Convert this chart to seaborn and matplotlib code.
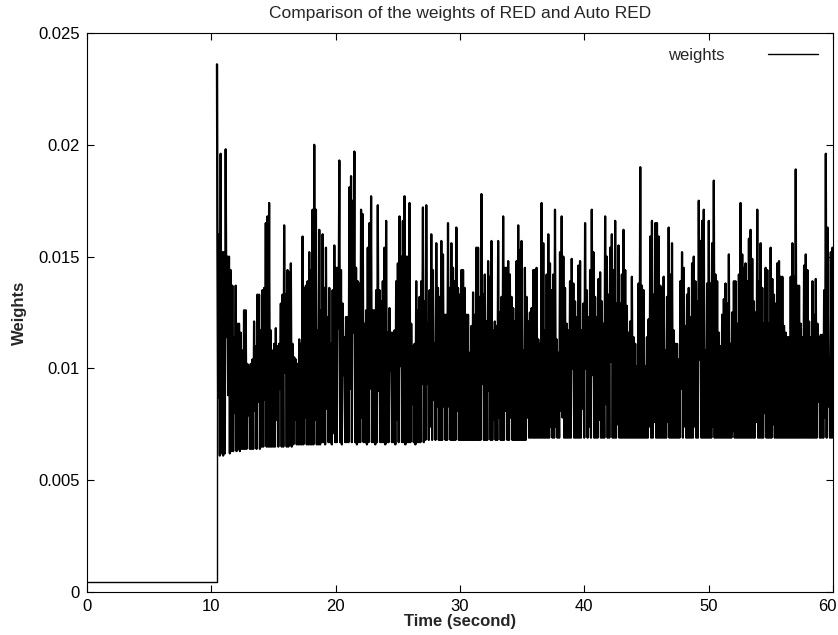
import numpy as np
import matplotlib
matplotlib.use("Agg")
import matplotlib.pyplot as plt
from matplotlib.transforms import ScaledTranslation
import seaborn as sns

# --- DATA (weights in units of 1e-4) ---
# flat start, then the jump at ~10.45 s
head_t = [0.0, 10.45, 10.45]
head_w = [4.5, 4.5, 236]

t_first = 10.48
t_last = 59.96

# peak of each oscillation, left to right
peaks = [
    169, 160, 196, 152, 152, 198, 150, 150, 144, 137, 114, 137, 120, 120, 116, 108,
    126, 126, 102, 101, 102, 104, 121, 110, 133, 133, 117, 135, 136, 165, 168, 174,
    117, 108, 111, 118, 110, 111, 129, 133, 164, 133, 144, 143, 147, 111, 105, 104,
    102, 113, 111, 159, 136, 137, 139, 152, 144, 171, 200, 171, 117, 162,
    # ~18.9 s
    126, 160, 136, 154, 123, 136, 111, 135, 155, 145, 145, 193, 144, 129, 114, 123,
    123, 181, 186, 175, 197, 145, 139, 138, 171, 169, 120, 126, 154, 165, 177, 126,
    126, 135, 173, 135, 130, 139, 154, 166, 116, 127, 116, 116, 117, 139, 147, 168,
    150, 166, 177, 150, 150, 174, 120, 110, 111, 139, 126, 132, 139, 172,
    # ~27.2 s
    130, 173, 120, 135, 160, 144, 111, 156, 136, 132, 157, 151, 124, 124, 165, 136,
    156, 145, 139, 163, 136, 133, 144, 144, 136, 124, 124, 107, 119, 134, 124, 154,
    154, 132, 178, 133, 142, 121, 148, 141, 157, 117, 121, 119, 157, 125, 132, 168,
    145, 145, 148, 142, 132, 127, 121, 148, 164, 153, 157, 108, 145, 132,
    # ~35.6 s
    121, 125, 127, 144, 144, 145, 113, 111, 174, 156, 117, 142, 160, 147, 135, 142,
    171, 113, 107, 152, 168, 150, 136, 120, 117, 139, 149, 138, 130, 123, 146, 148,
    117, 129, 165, 135, 123, 144, 171, 152, 132, 123, 140, 143, 130, 120, 168, 150,
    133, 154, 160, 144, 166, 129, 155, 129, 142, 162, 144, 128, 116, 121,
    # ~43.9 s
    141, 114, 111, 101, 138, 190, 137, 135, 101, 114, 122, 159, 166, 133, 165, 165,
    159, 137, 136, 141, 108, 132, 163, 142, 156, 117, 111, 111, 104, 139, 152, 145,
    119, 133, 136, 123, 147, 150, 139, 130, 175, 157, 166, 171, 108, 138, 166, 138,
    156, 184, 142, 139, 116, 110, 124, 131, 138, 129, 151, 111, 125, 139,
    # ~52.3 s
    139, 120, 142, 174, 151, 145, 147, 139, 158, 162, 149, 130, 125, 171, 139, 156,
    136, 120, 145, 144, 120, 154, 140, 133, 129, 147, 148, 141, 141, 119, 116, 114,
    114, 141, 156, 141, 189, 137, 137, 120, 114, 146, 151, 144, 121, 114, 139, 124,
    140, 120, 114, 115, 115, 135, 196, 163, 105, 152, 154,
]

# trough after each peak
lows = [
    87, 61, 62, 61, 62, 114, 88, 62, 63, 63, 80, 63, 64, 63, 64, 64,
    64, 64, 79, 64, 64, 64, 81, 64, 85, 64, 65, 65, 86, 65, 65, 65,
    65, 65, 65, 77, 65, 91, 65, 65, 98, 65, 65, 66, 65, 66, 77, 66,
    66, 66, 66, 66, 78, 66, 66, 66, 66, 66, 77, 66, 66, 66,
    67, 67, 66, 82, 67, 67, 66, 71, 67, 67, 118, 67, 66, 97, 67, 67,
    67, 91, 67, 116, 67, 66, 67, 67, 78, 67, 67, 66, 67, 91, 67, 67,
    66, 67, 90, 67, 67, 67, 66, 67, 67, 99, 67, 67, 66, 77, 67, 101,
    67, 67, 66, 67, 67, 67, 84, 67, 66, 67, 67, 67, 93, 67,
    68, 93, 68, 74, 68, 86, 68, 83, 68, 68, 68, 83, 68, 68, 83, 68,
    68, 68, 68, 81, 68, 68, 68, 68, 68, 68, 68, 68, 68, 68, 68, 68,
    68, 68, 93, 68, 68, 68, 90, 68, 68, 77, 68, 68, 78, 68, 68, 68,
    81, 68, 68, 78, 68, 68, 68, 68, 68, 68, 68, 68, 68, 78,
    69, 69, 69, 69, 69, 69, 69, 69, 69, 69, 69, 69, 69, 74, 69, 69,
    74, 69, 69, 81, 78, 69, 69, 69, 69, 69, 100, 69, 69, 69, 69, 69,
    82, 69, 100, 69, 74, 69, 97, 69, 69, 69, 77, 69, 69, 69, 84, 69,
    69, 103, 69, 69, 69, 75, 69, 69, 69, 69, 69, 69, 69, 69,
    69, 69, 69, 69, 69, 69, 69, 69, 69, 69, 74, 69, 69, 76, 69, 69,
    69, 69, 69, 69, 69, 76, 69, 69, 69, 69, 69, 69, 69, 91, 69, 74,
    69, 69, 69, 69, 69, 74, 69, 69, 104, 69, 69, 69, 69, 69, 69, 69,
    74, 69, 69, 69, 69, 69, 69, 69, 69, 69, 69, 69, 72, 69,
    69, 69, 69, 69, 69, 69, 69, 69, 69, 69, 69, 69, 76, 69, 69, 69,
    69, 80, 69, 69, 69, 69, 75, 69, 69, 69, 69, 69, 69, 69, 69, 69,
    69, 69, 69, 69, 69, 69, 69, 69, 69, 69, 69, 69, 69, 69, 69, 69,
    69, 85, 69, 69, 69, 78, 69, 83, 69, 69, 69,
]

x_ticks = [0, 10, 20, 30, 40, 50, 60]
y_ticks = [0, 0.005, 0.01, 0.015, 0.02, 0.025]
y_labels = ["0", "0.005", "0.01", "0.015", "0.02", "0.025"]

# --- build the zigzag (peak, then trough, for each sample) ---
n = len(peaks)
t_pk = np.linspace(t_first, t_last, n)
step = t_pk[1] - t_pk[0]
t_lo = t_pk + step / 2

t_zig = np.concatenate([head_t[-1:], np.column_stack([t_pk, t_lo]).ravel()])
w_zig = np.concatenate([head_w[-1:], np.column_stack([peaks, lows]).ravel()]) * 1e-4
w_head = np.array(head_w) * 1e-4

# --- PLOT ---
sns.set_style("ticks")
plt.rcParams["font.family"] = ["Liberation Sans", "DejaVu Sans"]
plt.rcParams["font.size"] = 12

fig = plt.figure(figsize=(8.38, 6.35), dpi=100)
ax = fig.add_axes([87 / 838, 43 / 635, 746 / 838, 559 / 635])

# thin flat part + jump, then the dense oscillation (drawn a bit heavier)
sns.lineplot(x=head_t, y=w_head, estimator=None, sort=False, color="black",
             linewidth=1.0, label="weights", ax=ax)
sns.lineplot(x=t_zig, y=w_zig, estimator=None, sort=False, color="black",
             linewidth=1.6, ax=ax)

ax.set_xlim(0, 60)
ax.set_ylim(0, 0.025)
ax.set_xticks(x_ticks)
ax.set_yticks(y_ticks)
ax.set_yticklabels(y_labels)
ax.tick_params(direction="in", top=True, right=True, length=5, width=0.8,
               colors="black", labelsize=12, pad=5)
for s in ax.spines.values():
    s.set_linewidth(0.8)
    s.set_color("black")

# last x label sits a little inside like the original
last = ax.get_xticklabels()[-1]
last.set_transform(last.get_transform() + ScaledTranslation(-6 / 100, 0, fig.dpi_scale_trans))

ax.set_title("Comparison of the weights of RED and Auto RED", fontsize=12.5, pad=11)
ax.set_xlabel("Time (second)", fontweight="bold", fontsize=12, labelpad=0)
ax.set_ylabel("Weights", fontweight="bold", fontsize=12, labelpad=8)

leg = ax.legend(loc="upper right", frameon=False, markerfirst=False,
                handlelength=3.0, handletextpad=2.6, fontsize=12, borderaxespad=0.5)
for h in leg.get_lines():
    h.set_linewidth(1.0)

fig.savefig("out.png", dpi=100, facecolor="white")
